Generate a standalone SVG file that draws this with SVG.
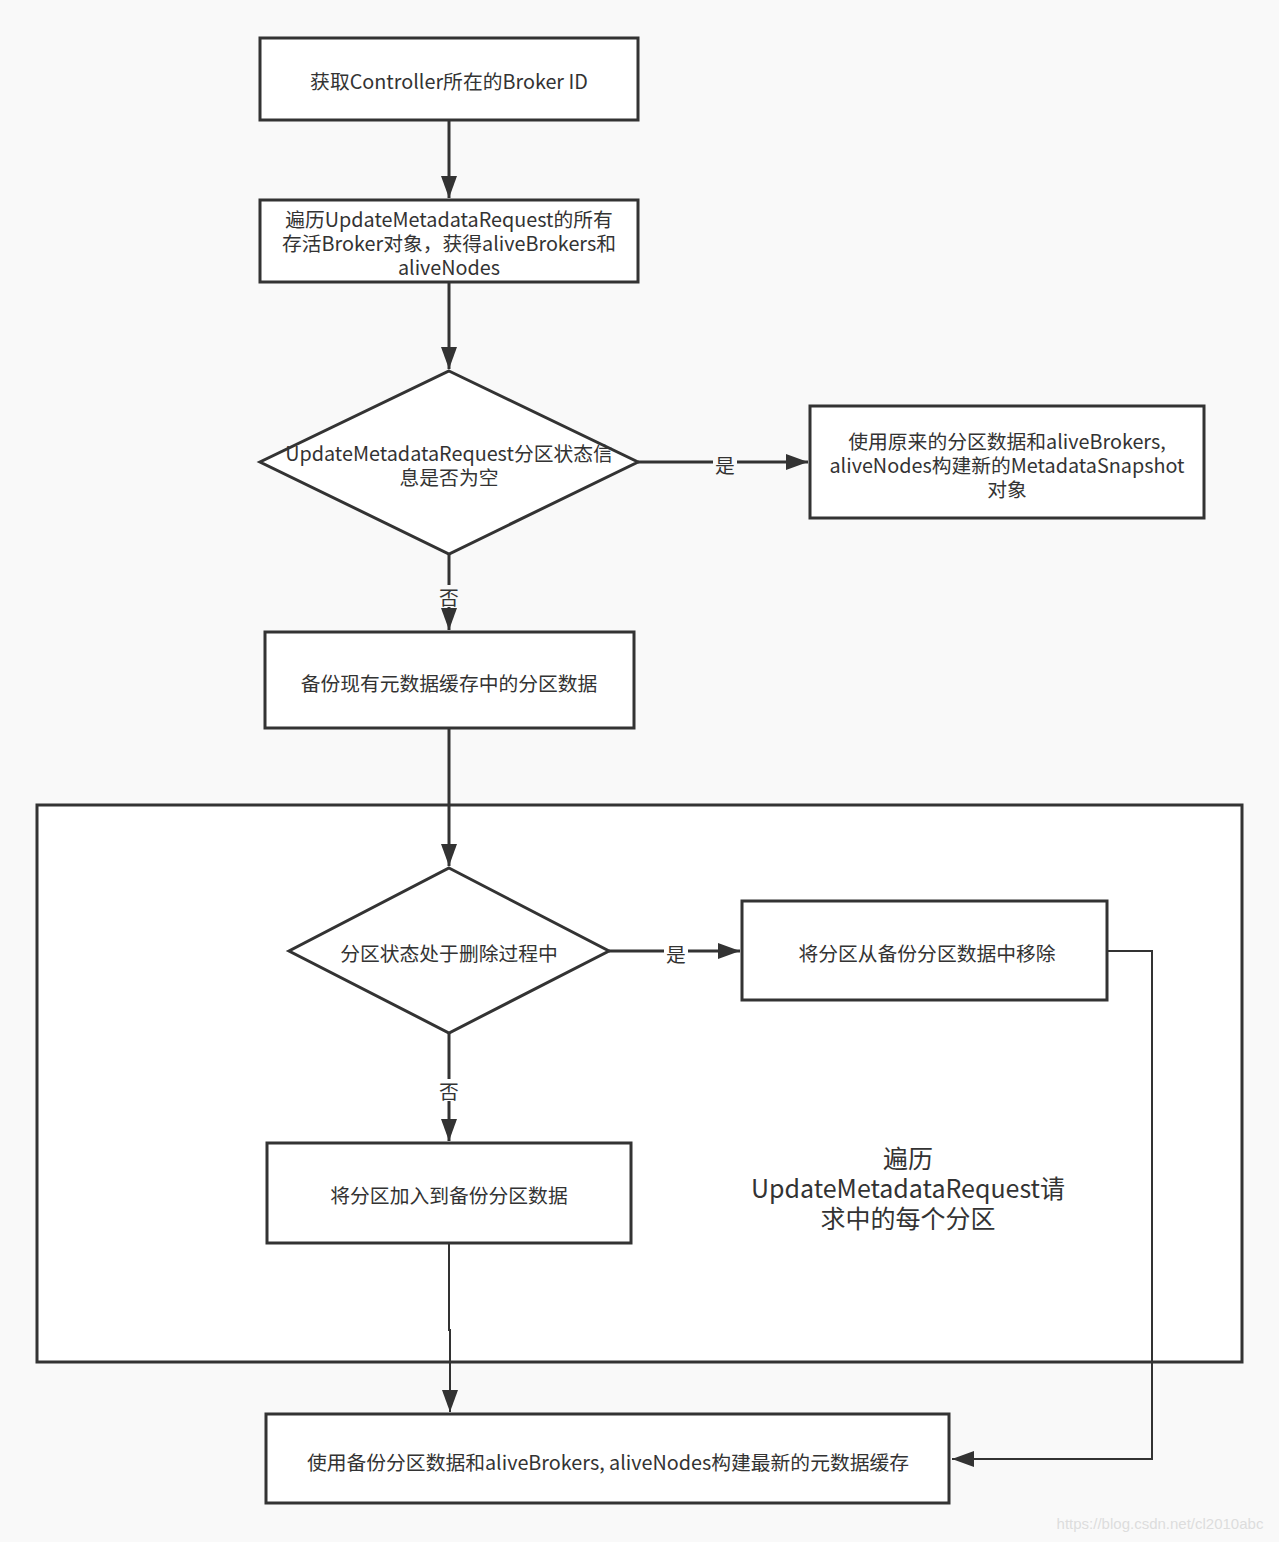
<svg xmlns="http://www.w3.org/2000/svg" width="1279" height="1542" viewBox="0 0 1279 1542">
<style>
.n{fill:#fff;stroke:#333;stroke-width:3}
.c{fill:none;stroke:#333;stroke-width:3}
.c2{fill:none;stroke:#333;stroke-width:2}
text{font-family:"Noto Sans CJK SC","Microsoft YaHei",sans-serif;fill:#333;font-size:19.8px;text-anchor:middle;dominant-baseline:central}
.lb{fill:#f9f9f9}
.big{font-size:25px}
</style>
<defs>
<marker id="a" markerUnits="userSpaceOnUse" markerWidth="24" markerHeight="18" refX="22" refY="9" orient="auto">
<path d="M0,1 L22,9 L0,17 Z" fill="#333"/>
</marker>
</defs>
<rect width="1279" height="1542" fill="#f9f9f9"/>
<g id="container">
<rect x="37" y="805" width="1205" height="557" class="n"/>
<text x="908" y="1157" class="big">遍历</text>
<text x="908" y="1187" class="big">UpdateMetadataRequest请</text>
<text x="908" y="1217" class="big">求中的每个分区</text>
</g>
<g id="connectors">
<path d="M449,120 V198" class="c" marker-end="url(#a)"/>
<path d="M449,282 V369" class="c" marker-end="url(#a)"/>
<path d="M638,462 H808" class="c" marker-end="url(#a)"/>
<rect x="713" y="452" width="24" height="22" class="lb"/>
<text x="725" y="464">是</text>
<path d="M449,554 V630" class="c" marker-end="url(#a)"/>
<rect x="437" y="585" width="24" height="22" class="lb"/>
<text x="449" y="596">否</text>
<path d="M449,728 V866" class="c" marker-end="url(#a)"/>
<path d="M609,951 H740" class="c" marker-end="url(#a)"/>
<rect x="664" y="941" width="24" height="22" class="n" style="stroke:none"/>
<text x="676" y="953">是</text>
<path d="M449,1033 V1141" class="c" marker-end="url(#a)"/>
<rect x="437" y="1079" width="24" height="22" class="n" style="stroke:none"/>
<text x="449" y="1090">否</text>
<path d="M449,1243 V1330 L450,1330 V1412" class="c2" marker-end="url(#a)"/>
<path d="M1107,951 H1152 V1459 H952" class="c2" marker-end="url(#a)"/>
</g>
<g id="n1">
<rect x="260" y="38" width="378" height="82" class="n"/>
<text x="449" y="80">获取Controller所在的Broker ID</text>
</g>
<g id="n2">
<rect x="260" y="200" width="378" height="82" class="n"/>
<text x="449" y="218">遍历UpdateMetadataRequest的所有</text>
<text x="449" y="242">存活Broker对象，获得aliveBrokers和</text>
<text x="449" y="266">aliveNodes</text>
</g>
<g id="d1">
<path d="M449,371 L638,462 L449,554 L260,462 Z" class="n"/>
<text x="449" y="452">UpdateMetadataRequest分区状态信</text>
<text x="449" y="476">息是否为空</text>
</g>
<g id="n3">
<rect x="810" y="406" width="394" height="112" class="n"/>
<text x="1007" y="440">使用原来的分区数据和aliveBrokers,</text>
<text x="1007" y="464">aliveNodes构建新的MetadataSnapshot</text>
<text x="1007" y="488">对象</text>
</g>
<g id="n4">
<rect x="265" y="632" width="369" height="96" class="n"/>
<text x="449" y="682">备份现有元数据缓存中的分区数据</text>
</g>
<g id="d2">
<path d="M449,868 L609,951 L449,1033 L289,951 Z" class="n"/>
<text x="449" y="952">分区状态处于删除过程中</text>
</g>
<g id="n5">
<rect x="742" y="901" width="365" height="99" class="n"/>
<text x="927" y="952">将分区从备份分区数据中移除</text>
</g>
<g id="n6">
<rect x="267" y="1143" width="364" height="100" class="n"/>
<text x="449" y="1194">将分区加入到备份分区数据</text>
</g>
<g id="n7">
<rect x="266" y="1414" width="683" height="89" class="n"/>
<text x="608" y="1461">使用备份分区数据和aliveBrokers, aliveNodes构建最新的元数据缓存</text>
</g>
<text x="1160" y="1523" style="font-size:15px;fill:#ddd;font-family:'Liberation Sans',sans-serif">https://blog.csdn.net/cl2010abc</text>
</svg>
